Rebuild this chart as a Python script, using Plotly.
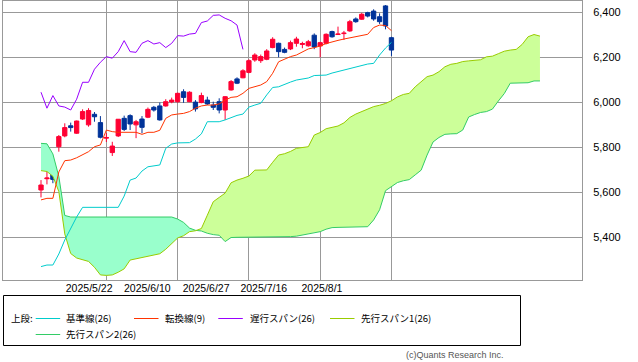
import plotly.graph_objects as go

# ---------------- data ----------------
BAR_OPEN = [5610, 5660, 5683, 5802, 5850, 5895, 5862, 5925, 5899, 5946,
            5909, 5840, 5776, 5850, 5928, 5940, 5899, 5925, 5933, 5977,
            5983, 5983, 6001, 6002, 6046, 6002, 6000, 5998, 6009, 5987,
            6002, 5965, 6054, 6103, 6108, 6132, 6187, 6184, 6190, 6242,
            6261, 6234, 6236, 6261, 6256, 6250, 6297, 6249, 6261, 6313,
            6300, 6304, 6316, 6369, 6368, 6397, 6404, 6379, 6427, 6286]
BAR_HIGH = [5654, 5721, 5689, 5854, 5906, 5909, 5918, 5968, 5973, 5956,
            5938, 5863, 5824, 5925, 5940, 5946, 5921, 5938, 5976, 5983,
            5998, 6013, 6020, 6042, 6057, 6048, 6009, 6042, 6024, 6002,
            6017, 6027, 6098, 6110, 6146, 6190, 6217, 6211, 6235, 6288,
            6264, 6242, 6273, 6290, 6268, 6276, 6305, 6268, 6305, 6317,
            6335, 6316, 6365, 6376, 6396, 6401, 6412, 6394, 6431, 6290]
BAR_LOW = [5577, 5635, 5640, 5780, 5844, 5869, 5859, 5921, 5891, 5913,
           5839, 5823, 5761, 5845, 5872, 5876, 5840, 5862, 5929, 5958,
           5918, 5980, 5995, 5997, 5997, 6000, 5958, 5995, 5987, 5965,
           5950, 5921, 6051, 6080, 6106, 6128, 6179, 6174, 6186, 6239,
           6199, 6217, 6231, 6246, 6239, 6246, 6235, 6199, 6256, 6286,
           6298, 6276, 6312, 6352, 6365, 6376, 6361, 6347, 6323, 6205]
BAR_CLOSE = [5632, 5663, 5657, 5847, 5887, 5887, 5916, 5958, 5963, 5935,
             5844, 5843, 5805, 5924, 5879, 5903, 5913, 5888, 5968, 5965,
             5921, 6002, 6009, 6039, 6021, 6044, 5970, 6029, 5992, 5977,
             5965, 6024, 6091, 6084, 6139, 6184, 6209, 6202, 6227, 6279,
             6224, 6221, 6264, 6280, 6260, 6268, 6245, 6264, 6301, 6290,
             6302, 6306, 6357, 6357, 6390, 6382, 6369, 6357, 6338, 6231]

TENKAN = [5566, 5573, 5573, 5690, 5740, 5743, 5753, 5765, 5780, 5802,
          5810, 5876, 5869, 5866, 5866, 5866, 5866, 5857, 5866, 5866,
          5875, 5928, 5943, 5947, 5950, 5958, 5973, 5983, 5987, 5987,
          5992, 6009, 6021, 6024, 6039, 6061, 6068, 6076, 6091, 6128,
          6179, 6191, 6202, 6209, 6224, 6236, 6242, 6249, 6260, 6268,
          6274, 6280, 6285, 6293, 6297, 6301, 6331, 6342, 6340, 6317]
KIJUN = [5270, 5277, 5277, 5326, 5388, 5441, 5490, 5533, 5533, 5533,
         5533, 5533, 5533, 5533, 5583, 5654, 5663, 5694, 5713, 5716,
         5721, 5795, 5814, 5819, 5819, 5820, 5836, 5859, 5913, 5913,
         5913, 5921, 5932, 5941, 5947, 5978, 5987, 5995, 6032, 6065,
         6068, 6080, 6089, 6098, 6103, 6107, 6118, 6120, 6120, 6129,
         6136, 6143, 6151, 6158, 6165, 6169, 6172, 6209, 6240, 6265]
CHIKOU = [6044, 5973, 6029, 5983, 5978, 5965, 6013, 6088, 6088, 6146,
          6177, 6202, 6195, 6224, 6273, 6224, 6221, 6261, 6273, 6258,
          6264, 6242, 6261, 6295, 6293, 6302, 6305, 6353, 6360, 6385,
          6387, 6372, 6361, 6342, 6234]
SPAN_A = [5696, 5692, 5671, 5603, 5415, 5328, 5308, 5299, 5293, 5267,
          5233, 5231, 5233, 5245, 5260, 5299, 5304, 5309, 5315, 5322,
          5327, 5347, 5373, 5397, 5407, 5425, 5429, 5439, 5498, 5558,
          5577, 5596, 5642, 5654, 5662, 5672, 5698, 5699, 5699, 5733,
          5765, 5771, 5781, 5795, 5799, 5802, 5854, 5865, 5882, 5887,
          5894, 5908, 5932, 5947, 5957, 5967, 5980, 5986, 5994, 6006,
          6023, 6034, 6039, 6068, 6092, 6113, 6120, 6135, 6157, 6168,
          6172, 6180, 6183, 6185, 6188, 6201, 6204, 6215, 6226, 6231,
          6234, 6256, 6290, 6300, 6293]
SPAN_B = [5817, 5815, 5770, 5670, 5497, 5490, 5490, 5490, 5490, 5490,
          5490, 5490, 5490, 5490, 5490, 5490, 5490, 5490, 5490, 5490,
          5490, 5490, 5490, 5481, 5466, 5441, 5431, 5428, 5418, 5412,
          5409, 5381, 5399, 5400, 5400, 5401, 5401, 5401, 5401, 5402,
          5402, 5403, 5403, 5405, 5410, 5415, 5421, 5425, 5436, 5443,
          5444, 5445, 5445, 5446, 5446, 5447, 5477, 5522, 5607, 5624,
          5643, 5651, 5656, 5677, 5698, 5765, 5823, 5843, 5857, 5859,
          5860, 5876, 5934, 5945, 5954, 5958, 5969, 6005, 6038, 6084,
          6084, 6085, 6086, 6094, 6094]

GRID_TICKS = [11, 23, 35, 47, 59]
DATE_LABELS = ["2025/5/22", "2025/6/10", "2025/6/27", "2025/7/16", "2025/8/1"]
PRICE_TICKS = [5400, 5600, 5800, 6000, 6200, 6400]
PRICE_LABELS = ["5,400", "5,600", "5,800", "6,000", "6,200", "6,400"]
LEGEND_NAMES = ["基準線(26)", "転換線(9)", "遅行スパン(26)", "先行スパン1(26)", "先行スパン2(26)"]

# ---------------- styling / layout constants ----------------
C_KIJUN = "#00CCCC"
C_TENKAN = "#FF3300"
C_CHIKOU = "#9900FF"
C_SPAN_A = "#99CC00"
C_SPAN_B = "#33CC66"
C_FILL_UP = "#CCFF99"
C_FILL_DN = "#99FFCC"
C_UP = "#FF0033"
C_DN = "#003399"
GRID = "#999999"
LABEL_POS = [8.1, 17.9, 27.8, 37.5, 47.3]   # where the date labels sit (as in the original)
X_RANGE = [-6.4, 91.08]
Y_RANGE = [5210.5, 6448.8]
W, H = 638, 362
ML, MR, MT, MB = 3, 56, 1, 82

bar_x = list(range(len(BAR_OPEN)))
chikou_x = list(range(len(CHIKOU)))
span_x = list(range(len(SPAN_A)))

fig = go.Figure()

# ---- kumo fill, split where the spans cross ----
def kumo_pieces(a, b):
    pieces = []
    cur_a = [(0, a[0])]
    cur_b = [(0, b[0])]
    sign = a[0] >= b[0]
    for i in range(1, len(a)):
        s = a[i] >= b[i]
        if s != sign:
            d0 = a[i - 1] - b[i - 1]
            d1 = a[i] - b[i]
            t = d0 / (d0 - d1)
            xc = i - 1 + t
            yc = a[i - 1] + t * (a[i] - a[i - 1])
            cur_a.append((xc, yc))
            cur_b.append((xc, yc))
            pieces.append((cur_a, cur_b, sign))
            cur_a = [(xc, yc)]
            cur_b = [(xc, yc)]
            sign = s
        cur_a.append((i, a[i]))
        cur_b.append((i, b[i]))
    pieces.append((cur_a, cur_b, sign))
    return pieces

for pa, pb, up in kumo_pieces(SPAN_A, SPAN_B):
    xs = [p[0] for p in pa] + [p[0] for p in reversed(pb)]
    ys = [p[1] for p in pa] + [p[1] for p in reversed(pb)]
    fig.add_trace(go.Scatter(x=xs, y=ys, mode="lines", fill="toself",
                             fillcolor=C_FILL_UP if up else C_FILL_DN,
                             line=dict(width=0), hoverinfo="skip"))

def line(x, y, color):
    fig.add_trace(go.Scatter(x=x, y=y, mode="lines",
                             line=dict(color=color, width=1), hoverinfo="skip"))

line(span_x, SPAN_B, C_SPAN_B)
line(span_x, SPAN_A, C_SPAN_A)
line(bar_x, KIJUN, C_KIJUN)
line(bar_x, TENKAN, C_TENKAN)
line(chikou_x, CHIKOU, C_CHIKOU)

fig.add_trace(go.Candlestick(
    x=bar_x, open=BAR_OPEN, high=BAR_HIGH, low=BAR_LOW, close=BAR_CLOSE,
    increasing=dict(line=dict(color=C_UP, width=1), fillcolor=C_UP),
    decreasing=dict(line=dict(color=C_DN, width=1), fillcolor=C_DN),
    whiskerwidth=0, hoverinfo="skip"))

# invisible trace so the label axis is drawn
fig.add_trace(go.Scatter(x=[LABEL_POS[0]], y=[Y_RANGE[0]], xaxis="x2",
                         mode="markers", marker=dict(opacity=0), hoverinfo="skip"))

BASE_FONT = "Liberation Sans, Arial, Noto Sans CJK JP, sans-serif"
JP_FONT = "Noto Sans CJK JP, Liberation Sans, sans-serif"

fig.update_layout(
    width=W, height=H,
    margin=dict(l=ML, r=MR, t=MT, b=MB, autoexpand=False),
    paper_bgcolor="white", plot_bgcolor="white", showlegend=False,
    font=dict(family=BASE_FONT, size=11, color="#000000"),
    boxgap=0.15, boxgroupgap=0.15,
    hovermode=False,
    xaxis=dict(range=X_RANGE, tickvals=GRID_TICKS, showticklabels=False,
               showgrid=True, gridcolor=GRID, gridwidth=1, zeroline=False,
               showline=True, mirror=True, linecolor=GRID, linewidth=1,
               ticks="", rangeslider=dict(visible=False), fixedrange=True,
               automargin=False),
    xaxis2=dict(range=X_RANGE, overlaying="x", side="bottom", tickvals=LABEL_POS,
                ticktext=DATE_LABELS, showgrid=False, zeroline=False,
                showline=False, ticks="", tickfont=dict(size=10.5, color="#000000"),
                fixedrange=True, automargin=False),
    yaxis=dict(range=Y_RANGE, side="right", tickvals=PRICE_TICKS, ticktext=PRICE_LABELS,
               showgrid=True, gridcolor=GRID, gridwidth=1, zeroline=False,
               showline=True, mirror=True, linecolor=GRID, linewidth=1,
               ticks="", ticklabelstandoff=8, tickfont=dict(size=11, color="#000000"),
               fixedrange=True, automargin=False),
)

# ---------------- custom legend block ----------------
PW = W - ML - MR
PH = H - MT - MB

def px(xp):
    return (xp - ML) / PW

def py(yp):
    return (MT + PH - yp) / PH

fig.add_shape(type="rect", xref="paper", yref="paper",
              x0=px(3.5), x1=px(520.5), y0=py(345.5), y1=py(295.5),
              line=dict(color="#000000", width=1), fillcolor="rgba(0,0,0,0)")

fig.add_annotation(xref="paper", yref="paper", x=px(9), y=py(318), text="上段:",
                   showarrow=False, xanchor="left", yanchor="middle",
                   font=dict(family=JP_FONT, size=9.5, color="#000000"))

legend_items = [
    (35.7, 318, 64.3, C_KIJUN, LEGEND_NAMES[0]),
    (134.0, 318, 163.3, C_TENKAN, LEGEND_NAMES[1]),
    (218.3, 318, 248.3, C_CHIKOU, LEGEND_NAMES[2]),
    (330.0, 318, 359.3, C_SPAN_A, LEGEND_NAMES[3]),
    (35.7, 334, 64.3, C_SPAN_B, LEGEND_NAMES[4]),
]
for lx, ly, tx, col, name in legend_items:
    fig.add_shape(type="line", xref="paper", yref="paper",
                  x0=px(lx), x1=px(lx + 24.5), y0=py(ly + 0.5), y1=py(ly + 0.5),
                  line=dict(color=col, width=1))
    fig.add_annotation(xref="paper", yref="paper", x=px(tx), y=py(ly), text=name,
                       showarrow=False, xanchor="left", yanchor="middle",
                       font=dict(family=JP_FONT, size=9.5, color="#000000"))

fig.add_annotation(xref="paper", yref="paper", x=px(506), y=py(355),
                   text="(c)Quants Research Inc.", showarrow=False,
                   xanchor="right", yanchor="middle",
                   font=dict(family=BASE_FONT, size=9, color="#555555"))

fig.write_html("out.html", config={"displayModeBar": False},
               post_script="document.body.style.margin='0';document.body.style.padding='0';")
